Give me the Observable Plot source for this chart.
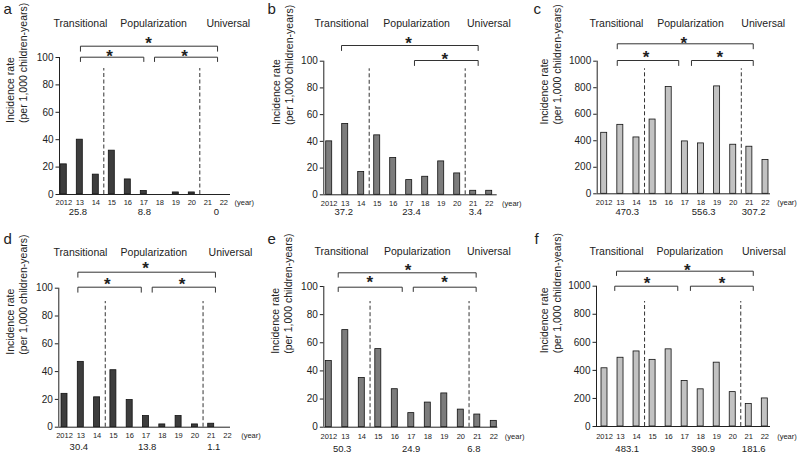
<!DOCTYPE html>
<html><head><meta charset="utf-8">
<script src="https://cdn.jsdelivr.net/npm/d3@7"></script>
<script src="https://cdn.jsdelivr.net/npm/@observablehq/plot@0.6"></script>
<style>
body{margin:0;background:#fff;}
#wrap{position:relative;width:800px;height:457px;overflow:hidden;background:#fff;}
.panel{position:absolute;}
</style></head><body><div id="wrap"></div>
<script>
// ---------- data ----------
const years = ["2012","13","14","15","16","17","18","19","20","21","22"];
const phases = ["Transitional","Popularization","Universal"];
const ticks100 = [0,20,40,60,80,100];
const ticks1000 = [0,200,400,600,800,1000];
const yLabel = "Incidence rate\n(per 1,000 children-years)";

const rateA = [22,40,14.5,32,11,2.5,0,1.5,1.5,0,0];
const rateB = [40,53,17,44.5,27.5,11,13.5,25,16,3,3];
const rateC = [460,520,425,560,805,395,380,810,370,355,255];
const rateD = [24,47,21.5,41,19.5,8,2,8,2,2.5,0];
const rateE = [47,69,35,55.5,27,10,17.5,24,12.5,9,4.5];
const rateF = [415,490,535,475,550,325,265,455,245,160,200];

const groupA = ["25.8","8.8","0"];
const groupB = ["37.2","23.4","3.4"];
const groupC = ["470.3","556.3","307.2"];
const groupD = ["30.4","13.8","1.1"];
const groupE = ["50.3","24.9","6.8"];
const groupF = ["483.1","390.9","181.6"];

// ---------- layout (pixels relative to panel; x annotations in year-index units) ----------
const dark = "#3d3d3d", mid = "#7c7c7c", light = "#c2c2c2";
const panels = [
 {key:"a", values:rateA, groups:groupA, ticks:ticks100, ymax:100, fill:dark,
  left:0, top:0, w:265, h:225, axis:59, c0:63.3, step:16, xEnd:230, yTop:57, y0:194,
  headerY:22.7, headerX:[1.04,5.61,10.28], tickY:202.5, valueY:211.5, valueX:[0.88,5.04,9.53], yearX:10.67,
  dashTop:68, ylabX:16, letter:[3,13],
  brackets:[{x1:1.04,x2:9.61,y:45.7,d:50.7,s:5.29,sy:39},{x1:1.04,x2:5.0,y:56.7,d:61,s:2.86,sy:51.7},{x1:5.67,x2:9.61,y:56.7,d:61,s:7.54,sy:51.7}]},
 {key:"b", values:rateB, groups:groupB, ticks:ticks100, ymax:100, fill:mid,
  left:265, top:0, w:265, h:225, axis:58.3, c0:63.7, step:16, xEnd:231.7, yTop:60.7, y0:194.3,
  headerY:22.7, headerX:[0.77,5.46,9.98], tickY:202.7, valueY:211.7, valueX:[0.91,5.14,9.14], yearX:10.8,
  dashTop:68.3, ylabX:16.5, letter:[2,13],
  brackets:[{x1:0.77,x2:9.31,y:45,d:50,s:4.96,sy:39},{x1:5.33,x2:9.31,y:60,d:65,s:7.23,sy:55}]},
 {key:"c", values:rateC, groups:groupC, ticks:ticks1000, ymax:1000, fill:light,
  left:530, top:0, w:270, h:225, axis:66.7, c0:73.7, step:16.13, xEnd:240, yTop:60.7, y0:193.3,
  headerY:22.7, headerX:[0.76,5.35,9.86], tickY:201.7, valueY:211.5, valueX:[1.43,6.17,9.27], yearX:10.73,
  dashTop:68.3, ylabX:20, letter:[3,13],
  brackets:[{x1:0.81,x2:9.24,y:43.3,d:48.3,s:4.93,sy:39},{x1:0.81,x2:4.62,y:60,d:65,s:2.6,sy:53.3},{x1:5.41,x2:9.24,y:60,d:65,s:7.17,sy:53.3}]},
 {key:"d", values:rateD, groups:groupD, ticks:ticks100, ymax:100, fill:dark,
  left:0, top:225, w:265, h:232, axis:58.3, c0:64, step:16.3, xEnd:230, yTop:62.7, y0:201.7,
  headerY:26.7, headerX:[0.98,5.48,10.18], tickY:210, valueY:221.7, valueX:[0.88,5.07,9.16], yearX:10.84,
  dashTop:76, ylabX:16, letter:[3,18],
  brackets:[{x1:0.82,x2:9.26,y:46.7,d:51.7,s:4.97,sy:39},{x1:0.82,x2:4.71,y:61.7,d:66.7,s:2.62,sy:55},{x1:5.38,x2:9.26,y:61.7,d:66.7,s:7.22,sy:55}]},
 {key:"e", values:rateE, groups:groupE, ticks:ticks100, ymax:100, fill:mid,
  left:265, top:225, w:265, h:232, axis:58.3, c0:63.3, step:16.5, xEnd:232.3, yTop:61, y0:201.7,
  headerY:25.7, headerX:[0.77,5.36,9.7], tickY:210.7, valueY:223.3, valueX:[0.81,4.99,8.79], yearX:10.67,
  dashTop:76, ylabX:16, letter:[2,18],
  brackets:[{x1:0.57,x2:8.93,y:47.3,d:51.7,s:4.81,sy:40.7},{x1:0.57,x2:4.45,y:61.7,d:66,s:2.48,sy:53.3},{x1:5.12,x2:8.93,y:61.7,d:66,s:7.01,sy:53.3}]},
 {key:"f", values:rateF, groups:groupF, ticks:ticks1000, ymax:1000, fill:light,
  left:530, top:225, w:270, h:232, axis:66, c0:74, step:16.03, xEnd:240, yTop:60.7, y0:201,
  headerY:25.7, headerX:[0.75,5.32,9.94], tickY:210.7, valueY:223.3, valueX:[1.42,6.16,9.31], yearX:10.77,
  dashTop:76, ylabX:20, letter:[4,18],
  brackets:[{x1:0.75,x2:9.28,y:45.7,d:50,s:5.16,sy:40.7},{x1:0.64,x2:4.57,y:60.7,d:65,s:2.66,sy:54},{x1:5.36,x2:9.28,y:60.7,d:65,s:7.34,sy:54}]}
];

const ink = "#222";
const wrap = document.getElementById("wrap");
const idx = d3.range(years.length);

for (const p of panels) {
  const yd = py => p.ymax * (p.y0 - py) / (p.y0 - p.yTop);
  const xd0 = (p.axis - p.c0) / p.step, xd1 = (p.xEnd - p.c0) / p.step;
  const bw = 6 / p.step;
  const brPts = [];
  p.brackets.forEach((b, k) => {
    brPts.push({id:k, x:b.x1, y:yd(b.d)}, {id:k, x:b.x1, y:yd(b.y)}, {id:k, x:b.x2, y:yd(b.y)}, {id:k, x:b.x2, y:yd(b.d)});
  });
  const starFs = 17;
  const chart = Plot.plot({
    width: p.w, height: p.h,
    marginLeft: p.axis, marginRight: p.w - p.xEnd, marginTop: p.yTop, marginBottom: p.h - p.y0,
    style: {fontFamily: "'Liberation Sans', Arial, sans-serif", fontSize: "10px", color: ink, background: "transparent", overflow: "visible"},
    x: {domain: [xd0, xd1], axis: null},
    y: {domain: [0, p.ymax], axis: null},
    marks: [
      Plot.rect(idx, {x1: i => i - bw/2, x2: i => i + bw/2, y1: 0, y2: i => p.values[i], fill: p.fill, stroke: "#111", strokeWidth: 0.8}),
      Plot.ruleX([2.5, 8.5], {y1: 0, y2: yd(p.dashTop), stroke: "#333", strokeWidth: 1, strokeDasharray: "4,2.5"}),
      Plot.ruleY([0], {x1: xd0, x2: xd1, stroke: "#222", strokeWidth: 1}),
      Plot.ruleX([xd0], {y1: 0, y2: p.ymax, stroke: "#222", strokeWidth: 1}),
      Plot.axisY(p.ticks, {tickSize: 3.5, tickPadding: 2.5, fontSize: 10, label: null, stroke: "#222", tickFormat: d3.format("d")}),
      Plot.line(brPts, {x: "x", y: "y", z: "id", stroke: "#333", strokeWidth: 1}),
      Plot.text(p.brackets, {x: "s", y: b => yd(b.sy), text: () => "*", fontSize: starFs, fontWeight: "bold", lineAnchor: "bottom", dy: 0.57 * starFs}),
      Plot.text(phases, {x: (d, i) => p.headerX[i], y: yd(p.headerY), text: d => d, fontSize: 10.5}),
      Plot.text(years, {x: (d, i) => i, y: yd(p.tickY), text: d => d, fontSize: 7.5}),
      Plot.text(["(year)"], {x: p.yearX, y: yd(p.tickY), text: d => d, textAnchor: "start", fontSize: 7.5}),
      Plot.text(p.groups, {x: (d, i) => p.valueX[i], y: yd(p.valueY), text: d => d, fontSize: 9.5}),
      Plot.text([yLabel], {frameAnchor: "left", rotate: -90, dx: p.ylabX - p.axis, dy: -3, fontSize: 10.5, lineHeight: 1.25}),
      Plot.text([p.key], {frameAnchor: "top-left", dx: p.letter[0] - p.axis, dy: p.letter[1] - p.yTop, textAnchor: "start", lineAnchor: "bottom", fontSize: 15})
    ]
  });
  const div = document.createElement("div");
  div.className = "panel";
  div.style.left = p.left + "px";
  div.style.top = p.top + "px";
  div.appendChild(chart);
  wrap.appendChild(div);
}
</script></body></html>
